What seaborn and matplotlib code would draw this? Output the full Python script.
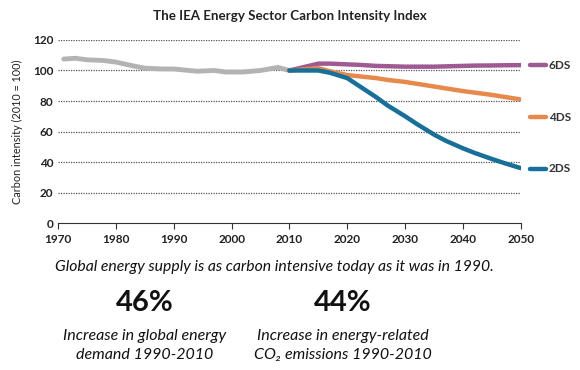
import matplotlib
matplotlib.use('Agg')
import matplotlib.pyplot as plt
import seaborn as sns

# historical index (grey line)
hist_years = [1971, 1973, 1975, 1978, 1980, 1983, 1985, 1988, 1990, 1994, 1997, 1999, 2002, 2005, 2008, 2010]
hist_vals = [107.5, 108, 107, 106.5, 105.5, 103, 101.5, 101, 101, 99.5, 100, 99, 99, 100, 102, 100]

# scenarios 2010-2050
scen_years = [2010, 2015, 2017, 2020, 2022, 2025, 2027, 2030, 2032, 2035, 2037, 2040, 2042, 2045, 2047, 2050]
ds6 = [100, 104.5, 104.5, 104, 103.7, 103, 102.8, 102.5, 102.5, 102.5, 102.7, 103, 103.2, 103.3, 103.4, 103.5]
ds4 = [100, 101.5, 99.5, 97, 96.2, 95, 93.8, 92.5, 91.3, 89.5, 88.3, 86.5, 85.5, 84, 82.8, 81]
ds2 = [100, 100, 98.5, 95, 90, 82.5, 77, 70, 65, 58, 54, 49, 46, 42, 39.5, 36]

series_names = ['6DS', '4DS', '2DS']
series_vals = [ds6, ds4, ds2]
series_colors = ['#9f5a94', '#e8894c', '#16709a']
label_y = [103.5, 69.5, 35.5]

x_ticks = [1970, 1980, 1990, 2000, 2010, 2020, 2030, 2040, 2050]
y_ticks = [0, 20, 40, 60, 80, 100, 120]

sns.set_style('white')
plt.rcParams['font.family'] = ['Lato', 'DejaVu Sans']

fig = plt.figure(figsize=(5.8, 3.7), dpi=100)
ax = fig.add_axes([0.1, 0.397, 0.798, 0.495])

# dotted gridlines
for y in y_ticks[1:]:
    ax.axhline(y, color='#555555', lw=0.9, ls=(0, (1, 1)), zorder=0)

sns.lineplot(x=hist_years, y=hist_vals, ax=ax, color='#b3b3b3', lw=3.5)
for name, vals, c in zip(series_names, series_vals, series_colors):
    sns.lineplot(x=scen_years, y=vals, ax=ax, color=c, lw=3.2)

# labels on the right
for name, y, c in zip(series_names, label_y, series_colors):
    ax.plot([1.02, 1.055], [y, y], color=c, lw=3.2, clip_on=False,
            transform=ax.get_yaxis_transform())
    ax.text(1.06, y, name, transform=ax.get_yaxis_transform(), va='center',
            ha='left', fontsize=8.5, fontweight='bold', color='#333333')

ax.set_xlim(1970, 2050)
ax.set_ylim(0, 120)
ax.set_xticks(x_ticks)
ax.set_yticks(y_ticks)
ax.tick_params(axis='both', labelsize=8.5, colors='#222222')
ax.tick_params(axis='x', length=4, width=0.8, direction='out', bottom=True, color='#333333')
ax.tick_params(axis='y', length=0)
for lab in ax.get_xticklabels() + ax.get_yticklabels():
    lab.set_fontweight('bold')
for s in ['top', 'right', 'left']:
    ax.spines[s].set_visible(False)
ax.spines['bottom'].set_color('#333333')
ax.spines['bottom'].set_linewidth(0.8)
ax.set_ylabel('Carbon intensity (2010 = 100)', fontsize=7.8, color='#222222', labelpad=7)
ax.set_xlabel('')

fig.text(0.5, 0.957, 'The IEA Energy Sector Carbon Intensity Index', ha='center', va='center',
         fontsize=9.6, fontweight='bold', color='#222222')

fig.text(0.473, 0.278, 'Global energy supply is as carbon intensive today as it was in 1990.',
         ha='center', va='center', fontsize=11.3, style='italic', color='#111111')
fig.text(0.25, 0.18, '46%', ha='center', va='center', fontsize=21, fontweight='bold', color='#111111')
fig.text(0.591, 0.18, '44%', ha='center', va='center', fontsize=21, fontweight='bold', color='#111111')
fig.text(0.25, 0.065, 'Increase in global energy\ndemand 1990-2010', ha='center', va='center',
         fontsize=11.5, style='italic', color='#111111', linespacing=1.45)
fig.text(0.591, 0.065, 'Increase in energy-related\nCO\u2082 emissions 1990-2010', ha='center', va='center',
         fontsize=11.5, style='italic', color='#111111', linespacing=1.45)

fig.savefig('out.png', dpi=100)
